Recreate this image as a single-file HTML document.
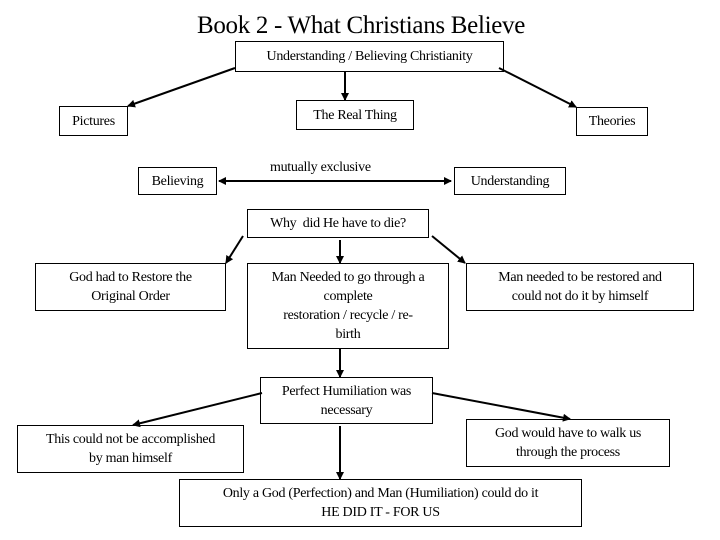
<!DOCTYPE html>
<html><head><style>
body{margin:0;width:720px;height:540px;background:#fff;position:relative;overflow:hidden;font-family:"Liberation Serif",serif;color:#000}
.b{position:absolute;border:1px solid #000;box-sizing:border-box;display:flex;align-items:center;justify-content:center;text-align:center;font-size:14px;line-height:19px;letter-spacing:-0.3px}
.t{position:absolute;font-size:14px;letter-spacing:-0.3px}
svg{position:absolute;left:0;top:0}
</style></head><body>
<div class="t" style="left:0;width:722px;top:12px;text-align:center;font-size:25px">Book 2 - What Christians Believe</div>
<div class="b" style="left:235px;top:41px;width:269px;height:31px">Understanding / Believing Christianity</div>
<div class="b" style="left:59px;top:106px;width:69px;height:30px">Pictures</div>
<div class="b" style="left:296px;top:100px;width:118px;height:30px">The Real Thing</div>
<div class="b" style="left:576px;top:107px;width:72px;height:29px">Theories</div>
<div class="b" style="left:138px;top:167px;width:79px;height:28px">Believing</div>
<div class="t" style="left:270px;top:160px">mutually exclusive</div>
<div class="b" style="left:454px;top:167px;width:112px;height:28px">Understanding</div>
<div class="b" style="left:247px;top:209px;width:182px;height:29px">Why&nbsp; did He have to die?</div>
<div class="b" style="left:35px;top:263px;width:191px;height:48px">God had to Restore the<br>Original Order</div>
<div class="b" style="left:247px;top:263px;width:202px;height:86px">Man Needed to go through a<br>complete<br>restoration / recycle / re-<br>birth</div>
<div class="b" style="left:466px;top:263px;width:228px;height:48px">Man needed to be restored and<br>could not do it by himself</div>
<div class="b" style="left:260px;top:377px;width:173px;height:47px">Perfect Humiliation was<br>necessary</div>
<div class="b" style="left:17px;top:425px;width:227px;height:48px">This could not be accomplished<br>by man himself</div>
<div class="b" style="left:466px;top:419px;width:204px;height:48px">God would have to walk us<br>through the process</div>
<div class="b" style="left:179px;top:479px;width:403px;height:48px">Only a God (Perfection) and Man (Humiliation) could do it<br>HE DID IT - FOR US</div>
<svg width="720" height="540">
<defs><marker id="a" markerWidth="8" markerHeight="8" refX="7" refY="4" orient="auto-start-reverse" markerUnits="userSpaceOnUse"><path d="M0,0L8,4L0,8z" fill="#000"/></marker></defs>
<g stroke="#000" stroke-width="2" fill="none" marker-end="url(#a)">
<line x1="235" y1="68" x2="128" y2="106"/>
<line x1="345" y1="72" x2="345" y2="100"/>
<line x1="499" y1="68" x2="576" y2="107"/>
<line x1="219" y1="181" x2="451" y2="181" marker-start="url(#a)"/>
<line x1="243" y1="236" x2="226" y2="263"/>
<line x1="340" y1="240" x2="340" y2="263"/>
<line x1="432" y1="236" x2="465" y2="263"/>
<line x1="340" y1="349" x2="340" y2="377"/>
<line x1="262" y1="393" x2="133" y2="425"/>
<line x1="432" y1="393" x2="570" y2="419"/>
<line x1="340" y1="426" x2="340" y2="479"/>
</g>
</svg>
</body></html>
